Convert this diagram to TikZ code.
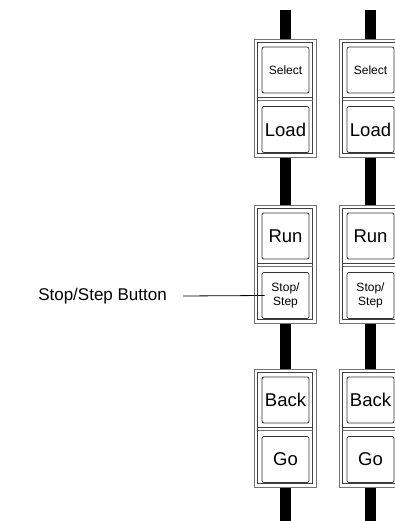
\documentclass[tikz,border=0pt]{standalone}
\usepackage{fontspec}
\setmainfont{Liberation Sans}
\begin{document}
\begin{tikzpicture}[x=1pt,y=-1pt,
  outerframe/.style={draw=black!55, fill=white, line width=0.9pt},
  innerframe/.style={draw=black!75, line width=0.9pt},
  dividerline/.style={draw=black!55, line width=0.9pt},
  btn/.style={draw=black!80, line width=0.8pt, rounded corners=2pt, minimum width=47pt, minimum height=46pt, inner sep=0pt, fill=white, align=center},
  smalltxt/.style={font=\fontsize{12}{14}\selectfont},
  bigtxt/.style={font=\fontsize{18.5}{20}\selectfont},
  labeltxt/.style={font=\fontsize{17}{20}\selectfont}]
\useasboundingbox (0,0) rectangle (395,521);
\clip (0,0) rectangle (395,521);
\foreach \c/\k in {0/1,85/2}{
  \fill[black] (280+\c,10) rectangle (291+\c,521);
  \foreach \T in {39,205,369}{
    \draw[outerframe] (254+\c,\T) rectangle (316+\c,\T+118);
    \draw[innerframe] (257.5+\c,\T+3.5) rectangle (312.5+\c,\T+114.5);
    \draw[innerframe] (257.5+\c,\T+58.5) -- (312.5+\c,\T+58.5);
    \draw[dividerline] (257.5+\c,\T+61.5) -- (312.5+\c,\T+61.5);
  }
  \node[btn, smalltxt] (sel\k)  at (285.5+\c,39+31)    {Select};
  \node[btn, bigtxt]   (load\k) at (285.5+\c,39+90.5)  {Load};
  \node[btn, bigtxt]   (run\k)  at (285.5+\c,205+31)   {Run};
  \node[btn, smalltxt] (stop\k) at (285.5+\c,205+90.5) {Stop/\\Step};
  \node[btn, bigtxt]   (back\k) at (285.5+\c,369+31)   {Back};
  \node[btn, bigtxt]   (go\k)   at (285.5+\c,369+90.5) {Go};
}
\node[labeltxt, anchor=east, inner sep=0pt] (lbl) at (167,296) {Stop/Step Button};
\draw[line width=0.8pt] ([xshift=16pt]lbl.east) -- ([xshift=3pt]stop1.west);
\end{tikzpicture}
\end{document}
